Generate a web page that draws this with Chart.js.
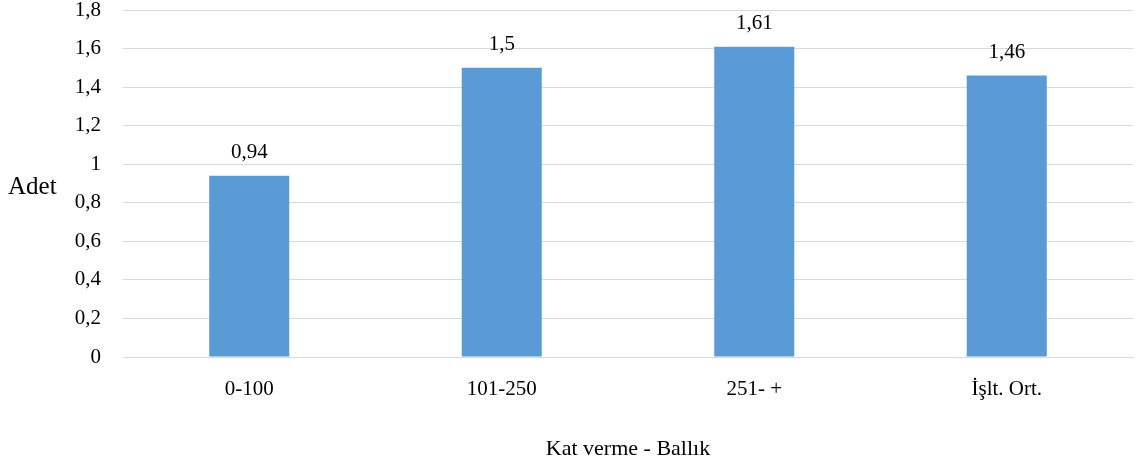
<!DOCTYPE html>
<html>
<head>
<meta charset="utf-8">
<script src="https://cdn.jsdelivr.net/npm/chart.js@4/dist/chart.umd.min.js"></script>
<style>
  html, body { margin: 0; padding: 0; background: #fff; }
  #wrap { width: 1140px; height: 472px; }
</style>
</head>
<body>
<div id="wrap"><canvas id="chart" width="1140" height="472"></canvas></div>
<script>
// Data
const categories = ['0-100', '101-250', '251- +', 'İşlt. Ort.'];
const values = [0.94, 1.5, 1.61, 1.46];
const yTitle = 'Adet';
const xTitle = 'Kat verme - Ballık';

const FONT = '"Liberation Serif", "Times New Roman", serif';
const SIZE = 21;
const fmt = v => String(Number(v.toFixed(2))).replace('.', ',');

// value labels above bars + horizontal y title
const labelsPlugin = {
  id: 'labels',
  afterDatasetsDraw(chart) {
    const ctx = chart.ctx;
    ctx.save();
    ctx.font = SIZE + 'px ' + FONT;
    ctx.fillStyle = '#000';
    ctx.textAlign = 'center';
    ctx.textBaseline = 'middle';
    chart.getDatasetMeta(0).data.forEach((bar, i) => {
      ctx.fillText(fmt(values[i]), bar.x, bar.y - 23);
    });
    // y title, not rotated
    ctx.font = '25px ' + FONT;
    ctx.textAlign = 'left';
    const area = chart.chartArea;
    ctx.fillText(yTitle, 8, (area.top + area.bottom) / 2 + 4);
    ctx.restore();
  }
};

new Chart(document.getElementById('chart'), {
  type: 'bar',
  data: {
    labels: categories,
    datasets: [{
      data: values,
      backgroundColor: '#5b9bd5',
      barPercentage: 0.317,
      categoryPercentage: 1
    }]
  },
  options: {
    responsive: false,
    animation: false,
    devicePixelRatio: 1,
    layout: { padding: { top: 10, right: 7, left: 0, bottom: 0 } },
    plugins: { legend: { display: false }, tooltip: { enabled: false } },
    scales: {
      y: {
        min: 0,
        max: 1.8,
        afterFit: s => { s.width = 123; s.paddingTop = 0; s.paddingBottom = 0; },
        border: { display: false },
        grid: { color: '#d9d9d9', lineWidth: 1, drawTicks: false },
        ticks: {
          stepSize: 0.2,
          padding: 22,
          color: '#000',
          font: { family: FONT, size: SIZE },
          callback: v => fmt(v)
        }
      },
      x: {
        afterFit: s => { s.height = 115; },
        border: { color: '#d9d9d9' },
        grid: { display: false, drawTicks: false },
        ticks: {
          padding: 20,
          color: '#000',
          font: { family: FONT, size: SIZE }
        },
        title: {
          display: true,
          text: xTitle,
          color: '#000',
          font: { family: FONT, size: 22 },
          padding: { top: 0, bottom: 10 }
        }
      }
    }
  },
  plugins: [labelsPlugin]
});
</script>
</body>
</html>
